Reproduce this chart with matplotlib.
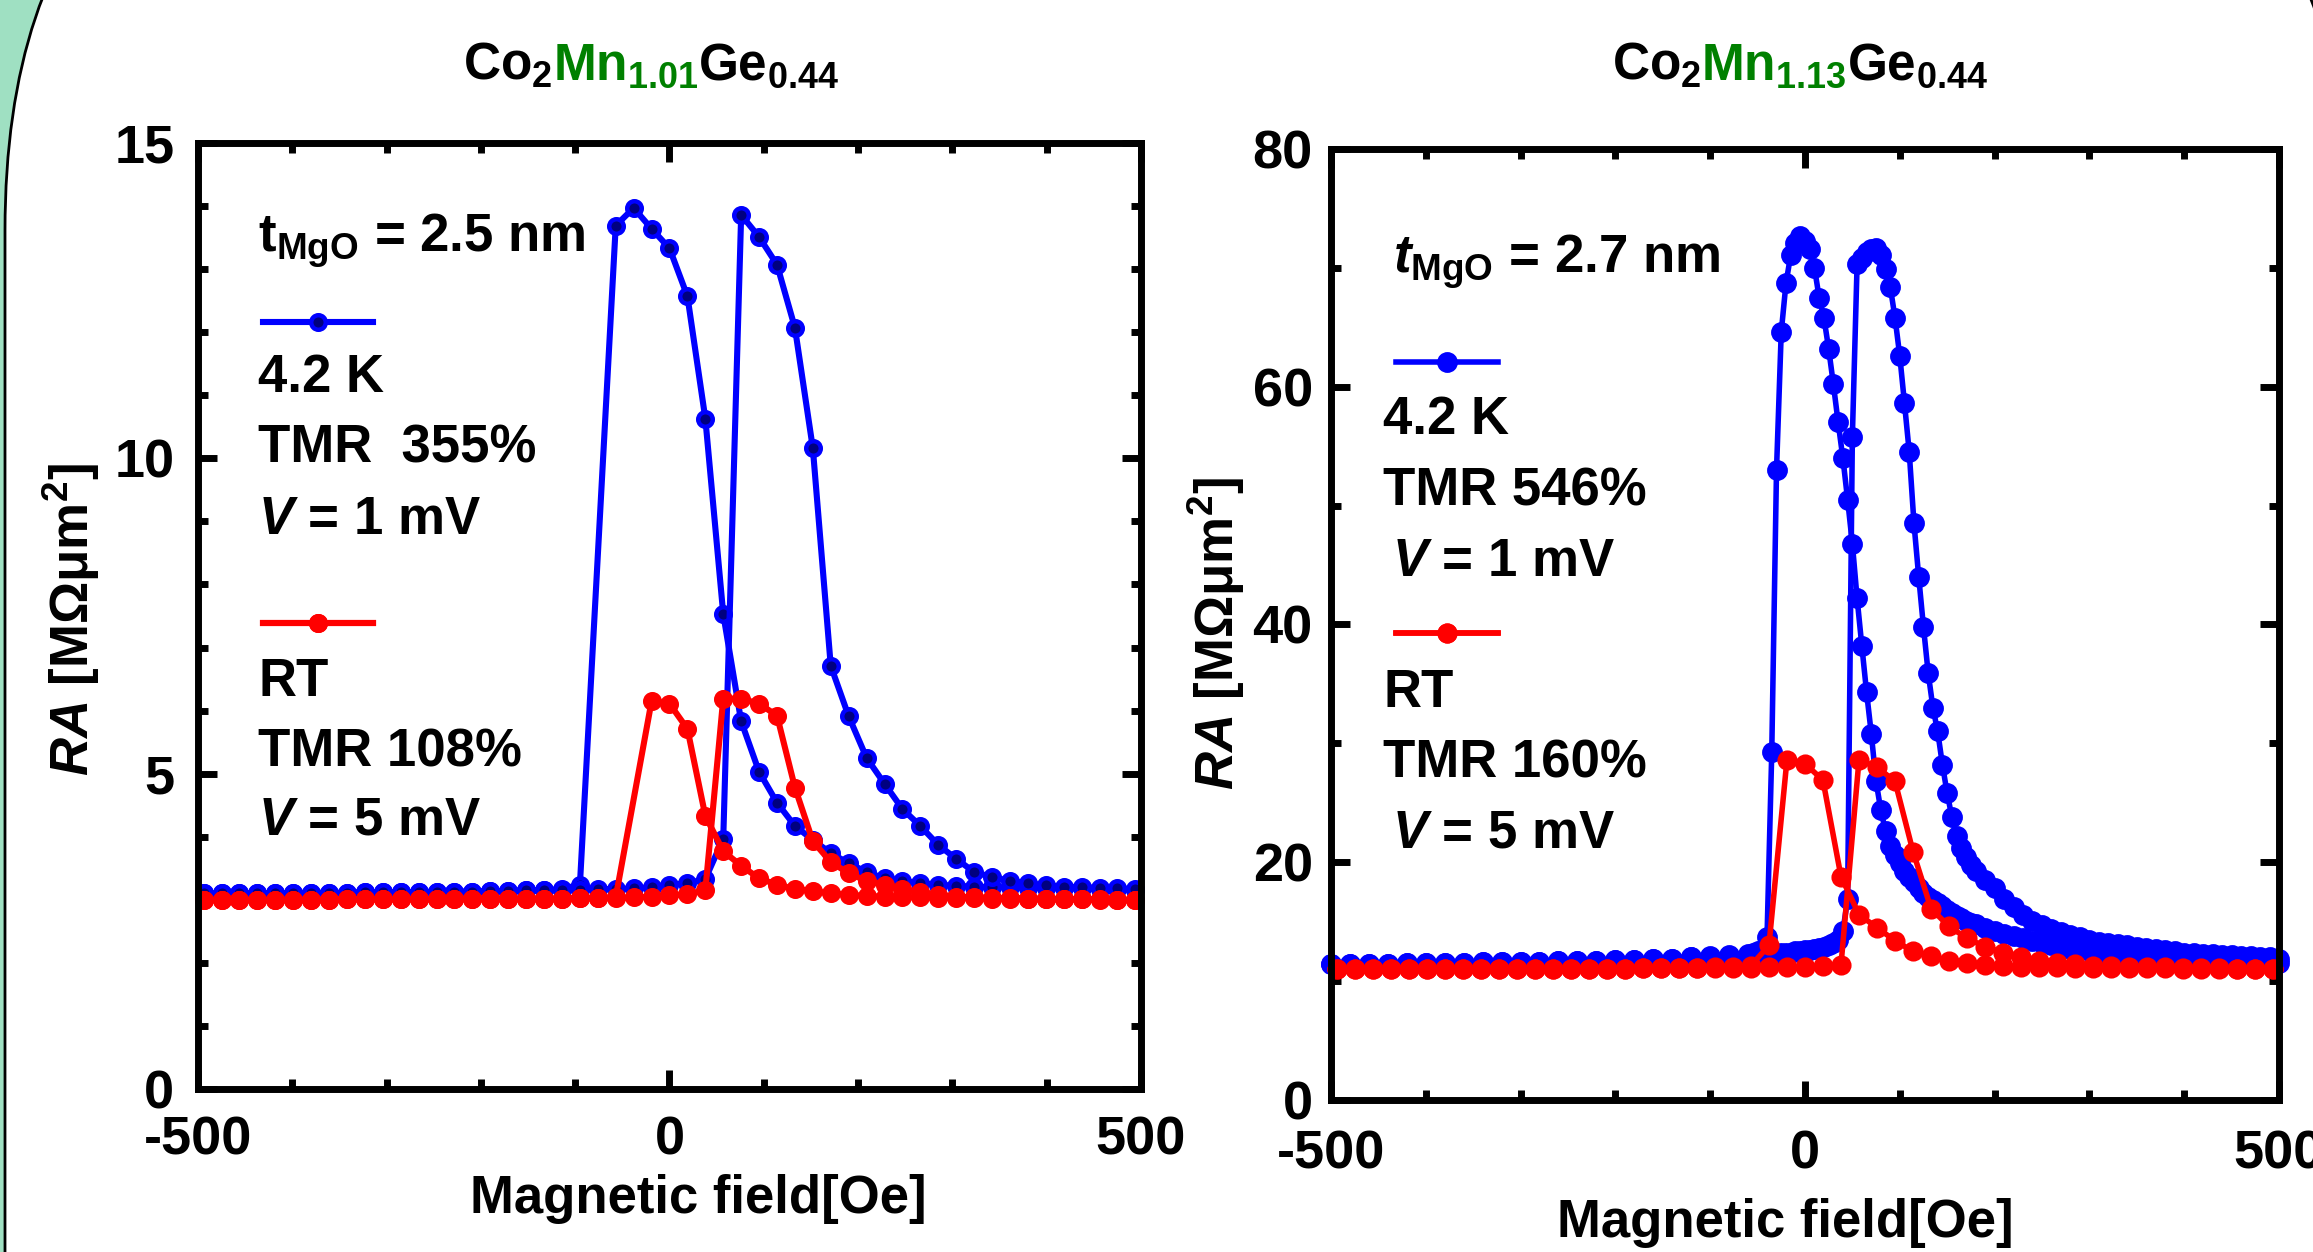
import numpy as np
import matplotlib
matplotlib.use("Agg")
import matplotlib.pyplot as plt
from matplotlib.patches import FancyBboxPatch
from matplotlib.transforms import IdentityTransform
from matplotlib.offsetbox import TextArea, HPacker, AnnotationBbox

plt.rcParams.update({
    "font.family": ["Liberation Sans", "DejaVu Sans"],
    "font.weight": "bold",
    "axes.labelweight": "bold",
    "mathtext.fontset": "custom",
    "mathtext.rm": "Liberation Sans:bold",
    "mathtext.bf": "Liberation Sans:bold",
    "mathtext.sf": "Liberation Sans:bold",
    "mathtext.it": "Liberation Sans:italic:bold",
    "mathtext.default": "rm",
    "axes.unicode_minus": False,
    "axes.linewidth": 5,
})

MINT, GREEN = "#9fe0c2", "#008000"
BLUE, NAVY, RED = "#0000ff", "#000080", "#ff0000"
nan = np.nan

# ── Data ──────────────────────────────────────────────────────────────────────
# field grid (Oe) of the RT sweeps and of the 2.5 nm junction
FIELD_19 = np.arange(-494, 495, 19)

# Co2Mn1.01Ge0.44, t_MgO = 2.5 nm, RA in MOhm um^2
LEFT_BLUE_DOWN = [3.10, 3.10, 3.10, 3.10, 3.10, 3.11, 3.11, 3.11, 3.11, 3.12,
                  3.12, 3.12, 3.12, 3.13, 3.13, 3.13, 3.14, 3.14, 3.15, 3.15,
                  3.17, 3.24, nan, 13.69, 13.97, 13.64, 13.33, 12.57, 10.63, 7.53,
                  5.83, 5.03, 4.54, 4.17, 3.95, 3.74, 3.58, 3.44, 3.34, 3.30,
                  3.26, 3.24, 3.22, 3.21, 3.20, 3.20, 3.19, 3.19, 3.18, 3.18,
                  3.17, 3.17, 3.16]
LEFT_BLUE_UP = [3.10, 3.10, 3.10, 3.10, 3.10, 3.11, 3.11, 3.11, 3.11, 3.12,
                3.12, 3.12, 3.12, 3.13, 3.13, 3.13, 3.14, 3.14, 3.15, 3.15,
                3.16, 3.16, 3.17, 3.17, 3.18, 3.20, 3.24, 3.26, 3.33, 3.97,
                13.86, 13.51, 13.07, 12.07, 10.16, 6.71, 5.91, 5.25, 4.84, 4.44,
                4.17, 3.87, 3.65, 3.44, 3.36, 3.30, 3.26, 3.23, 3.21, 3.20,
                3.19, 3.18, 3.17]
LEFT_RED_DOWN = [3.00, 3.00, 3.00, 3.00, 3.00, 3.00, 3.00, 3.00, 3.01, 3.01,
                 3.01, 3.01, 3.01, 3.01, 3.01, 3.02, 3.02, 3.02, 3.02, 3.02,
                 3.02, 3.03, 3.03, 3.04, nan, 6.15, 6.11, 5.71, 4.33, 3.77,
                 3.54, 3.34, 3.24, 3.17, 3.14, 3.10, 3.08, 3.06, 3.05, 3.04,
                 3.04, 3.03, 3.03, 3.03, 3.02, 3.02, 3.02, 3.01, 3.01, 3.01,
                 3.00, 3.00, 3.00]
LEFT_RED_UP = [3.00, 3.00, 3.00, 3.00, 3.00, 3.00, 3.00, 3.00, 3.01, 3.01,
               3.01, 3.01, 3.01, 3.01, 3.01, 3.02, 3.02, 3.02, 3.02, 3.02,
               3.02, 3.03, 3.03, 3.03, 3.04, 3.05, 3.07, 3.09, 3.15, 6.19,
               6.19, 6.11, 5.92, 4.78, 3.93, 3.60, 3.42, 3.30, 3.24, 3.17,
               3.12, 3.08, 3.05, 3.04, 3.03, 3.03, 3.02, 3.02, 3.01, 3.01,
               3.01, 3.00, 3.00]

# Co2Mn1.13Ge0.44, t_MgO = 2.7 nm
RIGHT_RED_DOWN = [11.00, 11.00, 11.00, 11.00, 11.00, 11.00, 11.01, 11.01, 11.01, 11.02,
                  11.02, 11.03, 11.03, 11.04, 11.04, 11.05, 11.06, 11.07, 11.08, 11.10,
                  11.12, 11.15, 11.20, 11.30, 13.0, 28.6, 28.3, 26.9, 18.8, 15.6,
                  14.5, 13.4, 12.5, 12.1, 11.7, 11.5, 11.35, 11.25, 11.20, 11.17,
                  11.15, 11.13, 11.12, 11.10, 11.09, 11.08, 11.07, 11.06, 11.05, 11.04,
                  11.03, 11.02, 11.01]
RIGHT_RED_UP = [11.00, 11.00, 11.00, 11.00, 11.00, 11.00, 11.01, 11.01, 11.01, 11.02,
                11.02, 11.03, 11.03, 11.04, 11.04, 11.05, 11.06, 11.07, 11.08, 11.09,
                11.10, 11.11, 11.12, 11.13, 11.15, 11.17, 11.20, 11.25, 11.35, 28.6,
                28.0, 26.8, 20.9, 16.1, 14.6, 13.6, 12.9, 12.4, 12.0, 11.7,
                11.5, 11.4, 11.3, 11.25, 11.2, 11.17, 11.15, 11.12, 11.10, 11.08,
                11.05, 11.03, 11.01]

# 4.2 K sweeps of the 2.7 nm junction use a finer field step near zero
FIELD_FINE = np.concatenate([np.arange(-500, -79, 20),
                             np.arange(-60, 181, 5),
                             np.arange(190, 501, 10)])
RIGHT_BLUE_DOWN = [11.4, 11.4, 11.4, 11.4, 11.5, 11.5, 11.5, 11.5, 11.6, 11.6, 11.6,
                   11.6, 11.7, 11.7, 11.7, 11.8, 11.8, 11.9, 11.9, 12.0, 12.1, 12.2,
                   # -60 ... 180 (step 5)
                   12.3, 12.4, 12.5, 12.6, 13.7, 29.3, 53.0, 64.6, 68.7, 71.1,
                   72.1, 72.7, 72.3, 71.6, 70.0, 67.5, 65.8, 63.2, 60.2, 57.0,
                   54.0, 50.5, 46.8, 42.2, 38.2, 34.3, 30.8, 26.8, 24.4, 22.6,
                   21.4, 20.6, 19.9, 19.3, 18.8, 18.3, 17.8, 17.4, 17.1, 16.8,
                   16.6, 16.3, 16.0, 15.7, 15.5, 15.3, 15.1, 14.9, 14.8,
                   # 190 ... 500 (step 10)
                   14.5, 14.2, 14.0, 13.8, 13.6, 13.4, 13.2, 13.0, 12.9, 12.7,
                   12.6, 12.5, 12.4, 12.3, 12.3, 12.2, 12.1, 12.1, 12.0, 12.0,
                   11.9, 11.9, 11.8, 11.8, 11.8, 11.7, 11.7, 11.6, 11.6, 11.6,
                   11.5, 11.5]
RIGHT_BLUE_UP = [11.4, 11.4, 11.4, 11.4, 11.5, 11.5, 11.5, 11.5, 11.6, 11.6, 11.6,
                 11.6, 11.7, 11.7, 11.7, 11.8, 11.8, 11.9, 11.9, 12.0, 12.0, 12.1,
                 # -60 ... 180 (step 5)
                 12.1, 12.2, 12.2, 12.2, 12.3, 12.3, 12.3, 12.4, 12.4, 12.4,
                 12.5, 12.5, 12.6, 12.6, 12.7, 12.8, 12.9, 13.0, 13.2, 13.5,
                 14.2, 16.9, 55.8, 70.3, 70.8, 71.3, 71.6, 71.7, 71.1, 69.9,
                 68.4, 65.8, 62.6, 58.6, 54.5, 48.5, 44.0, 39.8, 35.9, 33.0,
                 31.0, 28.2, 25.8, 23.8, 22.2, 21.2, 20.4, 19.8, 19.3,
                 # 190 ... 500 (step 10)
                 18.5, 17.8, 16.9, 16.2, 15.6, 15.1, 14.7, 14.4, 14.1, 13.9,
                 13.7, 13.5, 13.3, 13.2, 13.1, 13.0, 12.9, 12.8, 12.7, 12.6,
                 12.5, 12.4, 12.4, 12.3, 12.3, 12.2, 12.2, 12.1, 12.1, 12.0,
                 12.0, 11.9]

LEFT_NOTES = [r"4.2 K", r"TMR  355%", r"$\mathit{V}$ = 1 mV",
              r"RT", r"TMR 108%", r"$\mathit{V}$ = 5 mV"]
RIGHT_NOTES = [r"4.2 K", r"TMR 546%", r"$\mathit{V}$ = 1 mV",
               r"RT", r"TMR 160%", r"$\mathit{V}$ = 5 mV"]

# ── Styles ────────────────────────────────────────────────────────────────────
ST_L_BLUE = dict(color=BLUE, lw=4.4, marker="o", ms=10.5, mfc=NAVY, mec=BLUE, mew=3.2)
ST_L_RED = dict(color=RED, lw=4.4, marker="o", ms=10.5, mfc=RED, mec=RED, mew=3.2)
ST_R_BLUE = dict(color=BLUE, lw=4.0, marker="o", ms=12.5, mfc=BLUE, mec=BLUE, mew=2.5)
ST_R_RED = dict(color=RED, lw=4.0, marker="o", ms=12, mfc=RED, mec=RED, mew=2.5)


def sweep(ax, field, values, style):
    field = np.asarray(field, float)
    values = np.asarray(values, float)
    ok = ~np.isnan(values)
    line, = ax.plot(field[ok], values[ok], clip_on=False, **style)
    return line


def frame(ax, ymax, ymajor, yminor, ypad, xpad):
    ax.set_xlim(-500, 500)
    ax.set_ylim(0, ymax)
    ax.set_xticks([-500, 0, 500])
    ax.set_xticks(np.arange(-400, 401, 100), minor=True)
    ax.set_yticks(np.arange(0, ymax + 1, ymajor))
    ax.set_yticks(np.arange(0, ymax + 1, yminor), minor=True)
    ax.tick_params(which="both", direction="in", top=True, right=True,
                   width=5, labelsize=39)
    ax.tick_params(which="major", length=14)
    ax.tick_params(which="minor", length=7)
    ax.tick_params(axis="y", pad=ypad)
    ax.tick_params(axis="x", pad=xpad)


def key(ax, handle, x, y, length):
    leg = ax.legend(handles=[handle], labels=[""], loc="center left",
                    bbox_to_anchor=(x, y), bbox_transform=ax.transData,
                    frameon=False, borderpad=0, borderaxespad=0,
                    handletextpad=0, handlelength=length, fontsize=10,
                    numpoints=1)
    ax.add_artist(leg)


def title(fig, x, y, mn_sub):
    parts = [TextArea(r"Co$_{2}$", textprops=dict(color="black", fontsize=37)),
             TextArea(r"Mn$_{%s}$" % mn_sub, textprops=dict(color=GREEN, fontsize=37)),
             TextArea(r"Ge$_{0.44}$", textprops=dict(color="black", fontsize=37))]
    box = HPacker(children=parts, align="baseline", pad=0, sep=0)
    fig.add_artist(AnnotationBbox(box, (x, y), xycoords="figure fraction",
                                  frameon=False, box_alignment=(0.5, 0.5), pad=0))


# ── Figure ────────────────────────────────────────────────────────────────────
fig = plt.figure(figsize=(23.13, 12.52), dpi=100)
fig.patch.set_facecolor(MINT)
fig.add_artist(FancyBboxPatch((5, -1000), 2343, 2507,
                              boxstyle="round,pad=0,rounding_size=485",
                              transform=IdentityTransform(), facecolor="white",
                              edgecolor="black", lw=2, zorder=-10))

# left panel
ax1 = fig.add_axes([0.0856, 0.1302, 0.4077, 0.7556])
frame(ax1, 15, 5, 1, ypad=17, xpad=19)
hb = sweep(ax1, FIELD_19, LEFT_BLUE_DOWN, ST_L_BLUE)
sweep(ax1, FIELD_19, LEFT_BLUE_UP, ST_L_BLUE)
hr = sweep(ax1, FIELD_19, LEFT_RED_DOWN, ST_L_RED)
sweep(ax1, FIELD_19, LEFT_RED_UP, ST_L_RED)
ax1.text(-436, 13.27, r"$\mathrm{t}_{\mathrm{MgO}}$ = 2.5 nm", fontsize=38, va="baseline")
key(ax1, hb, -431, 12.15, 7.9)
key(ax1, hr, -431, 7.37, 7.9)
for txt, yb in zip(LEFT_NOTES, [11.05, 9.93, 8.80, 6.23, 5.11, 4.03]):
    ax1.text(-436, yb, txt, fontsize=38, va="baseline")
ax1.set_xlabel("Magnetic field[Oe]", fontsize=38, fontweight="bold", va="center")
ax1.xaxis.set_label_coords(0.531, -0.1163)
ax1.set_ylabel(r"$\mathit{RA}$ [MΩμm$^{2}$]", fontsize=38, fontweight="bold",
               va="center", ha="center")
ax1.yaxis.set_label_coords(-0.1347, 0.496)

# right panel
ax2 = fig.add_axes([0.5754, 0.1214, 0.4099, 0.7596])
frame(ax2, 80, 20, 10, ypad=13, xpad=21)
hb = sweep(ax2, FIELD_FINE, RIGHT_BLUE_DOWN, ST_R_BLUE)
sweep(ax2, FIELD_FINE, RIGHT_BLUE_UP, ST_R_BLUE)
hr = sweep(ax2, FIELD_19, RIGHT_RED_DOWN, ST_R_RED)
sweep(ax2, FIELD_19, RIGHT_RED_UP, ST_R_RED)
ax2.text(-434, 69.6, r"$\mathit{t}_{\mathrm{MgO}}$ = 2.7 nm", fontsize=38, va="baseline")
key(ax2, hb, -431, 62.0, 7.3)
key(ax2, hr, -431, 39.2, 7.3)
for txt, yb in zip(RIGHT_NOTES, [56.0, 50.0, 44.1, 33.1, 27.1, 21.2]):
    xl = -436 if "V" in txt else -445
    ax2.text(xl, yb, txt, fontsize=38, va="baseline")
ax2.set_xlabel("Magnetic field[Oe]", fontsize=38, fontweight="bold", va="center")
ax2.xaxis.set_label_coords(0.479, -0.1293)
ax2.set_ylabel(r"$\mathit{RA}$ [MΩμm$^{2}$]", fontsize=38, fontweight="bold",
               va="center", ha="center")
ax2.yaxis.set_label_coords(-0.1203, 0.49)

title(fig, 0.2815, 0.947, "1.01")
title(fig, 0.778, 0.947, "1.13")

fig.savefig("out.png", dpi=100, facecolor=fig.get_facecolor())
